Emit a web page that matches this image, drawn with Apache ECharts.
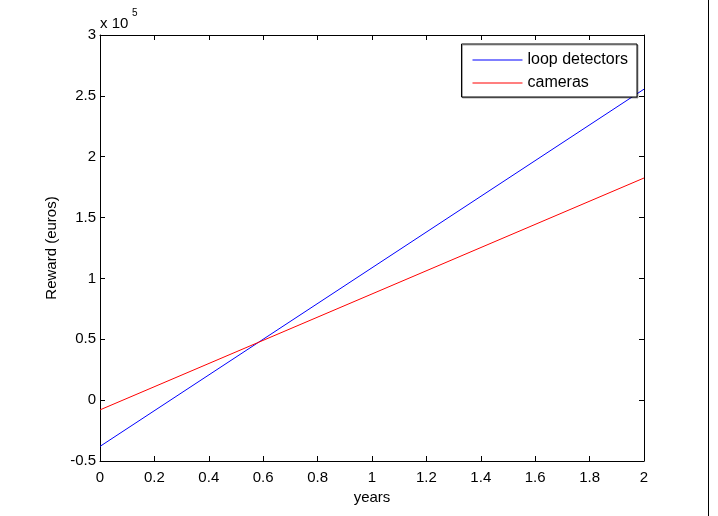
<!DOCTYPE html>
<html><head><meta charset="utf-8">
<script src="https://cdn.jsdelivr.net/npm/echarts@6/dist/echarts.min.js"></script>
<style>html,body{margin:0;padding:0;background:#fff}#c{width:718px;height:516px}</style>
</head><body><div id="c"></div>
<script>
var years = [0, 2];
var loopDetectors = [-38000, 255500];
var cameras = [-8000, 182500];
var seriesNames = ['loop detectors', 'cameras'];

var chart = echarts.init(document.getElementById('c'));
var font = 'Liberation Sans, Arial, Helvetica, sans-serif';
function yFmt(v){ var s = +(v/1e5).toFixed(2); return String(s); }
var axisCommon = {
  axisLine:{show:true, onZero:false, lineStyle:{color:'#000', width:1}},
  axisTick:{show:true, inside:true, length:5, lineStyle:{color:'#000'}},
  splitLine:{show:false}
};
chart.setOption({
  animation:false,
  grid:{left:100, top:35, width:544, height:426},
  legend:{
    right:81, top:44, orient:'vertical', itemWidth:50, itemHeight:1, itemGap:7,
    padding:[8,9,6,11], borderColor:'#000', borderWidth:1, backgroundColor:'#fff',
    shadowColor:'rgba(0,0,0,0.35)', shadowOffsetX:1, shadowOffsetY:1,
    icon:'rect',
    textStyle:{fontFamily:font, fontSize:16, color:'#000'},
    data:seriesNames
  },
  xAxis:[
    Object.assign({type:'value', min:0, max:2, interval:0.2, position:'bottom',
      name:'years', nameLocation:'middle', nameGap:28,
      nameTextStyle:{fontFamily:font, fontSize:15, color:'#000'},
      axisLabel:{fontFamily:font, fontSize:15, color:'#000', margin:9,
        formatter:function(v){return String(+v.toFixed(1));}}}, axisCommon),
    Object.assign({type:'value', min:0, max:2, interval:0.2, position:'top',
      axisLabel:{show:false}}, axisCommon)
  ],
  yAxis:[
    Object.assign({type:'value', min:-50000, max:300000, interval:50000, position:'left',
      name:'Reward (euros)', nameLocation:'middle', nameGap:40, nameRotate:90,
      nameTextStyle:{fontFamily:font, fontSize:15, color:'#000'},
      axisLabel:{fontFamily:font, fontSize:15, color:'#000', margin:4, formatter:yFmt}}, axisCommon),
    Object.assign({type:'value', min:-50000, max:300000, interval:50000, position:'right',
      axisLabel:{show:false}}, axisCommon)
  ],
  graphic:[
    {type:'text', left:100, top:16, style:{text:'x 10', font:'15px '+font, fill:'#000'}},
    {type:'text', left:132, top:8, style:{text:'5', font:'10px '+font, fill:'#000'}},
    {type:'line', shape:{x1:708.5, y1:0, x2:708.5, y2:516}, style:{stroke:'#000', lineWidth:1}}
  ],
  series:[
    {name:seriesNames[0], type:'line', showSymbol:false, symbol:'none', color:'#0000ff',
      lineStyle:{width:1, color:'#0000ff'},
      data:years.map(function(x,i){return [x, loopDetectors[i]];})},
    {name:seriesNames[1], type:'line', showSymbol:false, symbol:'none', color:'#ff0000',
      lineStyle:{width:1, color:'#ff0000'},
      data:years.map(function(x,i){return [x, cameras[i]];})}
  ]
});
</script></body></html>
